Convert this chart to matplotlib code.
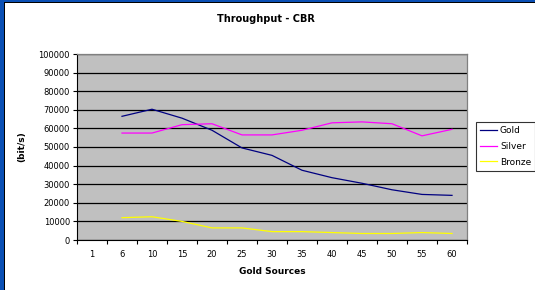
import matplotlib.pyplot as plt
import numpy as np
from matplotlib.patches import Rectangle

# données
categories = ["1", "6", "10", "15", "20", "25", "30", "35", "40", "45", "50", "55", "60"]
gold = [np.nan, 66500, 70300, 65500, 59000, 49500, 45500, 37500, 33500, 30500, 27000, 24500, 24000]
silver = [np.nan, 57500, 57500, 62000, 62500, 56500, 56500, 59000, 63000, 63500, 62500, 56000, 59500]
bronze = [np.nan, 12000, 12500, 10000, 6500, 6500, 4500, 4500, 4000, 3500, 3500, 4000, 3500]
yticks = list(range(0, 100001, 10000))

fig = plt.figure(figsize=(5.35, 2.9), dpi=100)
fig.patch.set_facecolor("white")

# cadre bleu (bords gauche et haut)
fig.patches.append(Rectangle((0, 0), 4 / 535, 1, transform=fig.transFigure,
                             facecolor="#0a4fb4", edgecolor="none", zorder=0))
fig.patches.append(Rectangle((4 / 535, 0), 1.2 / 535, 1 - 3 / 290, transform=fig.transFigure,
                             facecolor="black", edgecolor="none", zorder=0))
fig.patches.append(Rectangle((0, 1 - 2 / 290), 1, 2 / 290, transform=fig.transFigure,
                             facecolor="#0a4fb4", edgecolor="none", zorder=0))
fig.patches.append(Rectangle((4 / 535, 1 - 3 / 290), 1, 1.2 / 290, transform=fig.transFigure,
                             facecolor="black", edgecolor="none", zorder=0))

ax = fig.add_axes([77 / 535, 1 - 240 / 290, 390 / 535, 186 / 290])
ax.set_facecolor("#c0c0c0")

x = np.arange(len(categories))
ax.plot(x, gold, color="#000080", lw=0.9, label="Gold")
ax.plot(x, silver, color="#ff00ff", lw=0.9, label="Silver")
ax.plot(x, bronze, color="#ffff00", lw=0.9, label="Bronze")

ax.set_xlim(-0.5, len(categories) - 0.5)
ax.set_ylim(0, 100000)
ax.set_yticks(yticks)
ax.set_yticklabels([str(v) for v in yticks])
ax.yaxis.grid(True, color="black", lw=0.9)
ax.set_axisbelow(True)

# graduations aux limites des catégories, étiquettes au centre
ax.set_xticks(np.arange(-0.5, len(categories), 1))
ax.set_xticklabels([])
ax.set_xticks(x, minor=True)
ax.set_xticklabels(categories, minor=True)
ax.tick_params(axis="x", which="major", length=3, width=0.8, direction="out")
ax.tick_params(axis="x", which="minor", length=0, pad=7, labelsize=6, colors="#000000")
ax.tick_params(axis="y", length=3, width=0.8, labelsize=6, pad=2)

for s in ["top", "right"]:
    ax.spines[s].set_color("#808080")
    ax.spines[s].set_linewidth(0.9)
for s in ["left", "bottom"]:
    ax.spines[s].set_color("black")
    ax.spines[s].set_linewidth(0.8)

fig.text(266 / 535, 1 - 19 / 290, "Throughput - CBR", ha="center", va="center",
         fontsize=7, fontweight="bold")
fig.text(272 / 535, 1 - 272 / 290, "Gold Sources", ha="center", va="center",
         fontsize=6.5, fontweight="bold")
fig.text(22 / 535, 1 - 147 / 290, "(bit/s)", ha="center", va="center",
         rotation=90, fontsize=6.5, fontweight="bold")

leg = ax.legend(loc="upper left", bbox_to_anchor=(476 / 535, 1 - 122 / 290),
                bbox_transform=fig.transFigure, fontsize=6.5, frameon=True,
                fancybox=False, borderpad=0.45, handlelength=1.9, handletextpad=0.3,
                labelspacing=0.75, borderaxespad=0)
leg.get_frame().set_edgecolor("black")
leg.get_frame().set_linewidth(0.8)

fig.savefig("out.png", dpi=100)
